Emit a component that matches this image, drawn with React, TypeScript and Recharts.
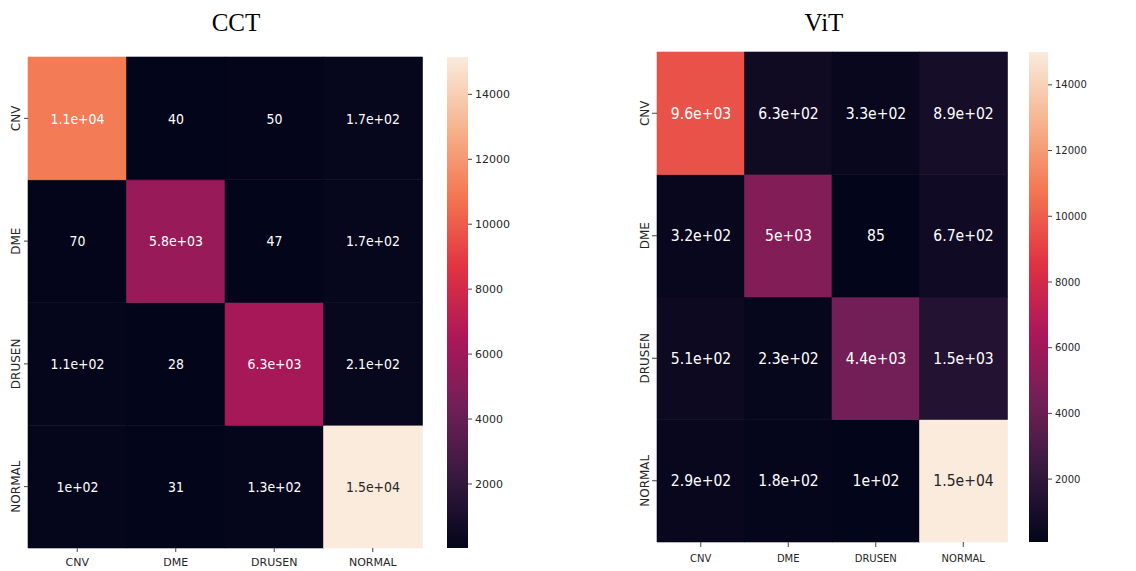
import { BarChart, Bar, XAxis, YAxis, Cell } from "recharts";

const classes = ["CNV", "DME", "DRUSEN", "NORMAL"];

// confusion matrices: rows = true class, columns = predicted class
const cctCNV = [11000, 40, 50, 170];
const cctDME = [70, 5800, 47, 170];
const cctDRUSEN = [110, 28, 6300, 210];
const cctNORMAL = [100, 31, 130, 15150];

const vitCNV = [9600, 630, 330, 890];
const vitDME = [320, 5000, 85, 670];
const vitDRUSEN = [510, 230, 4400, 1500];
const vitNORMAL = [290, 180, 100, 15000];

const colorbarTicks = [2000, 4000, 6000, 8000, 10000, 12000, 14000];

// seaborn "rocket"
const rocketStops = [
  "#03051A",
  "#35193E",
  "#701F57",
  "#AD1759",
  "#E13342",
  "#F37651",
  "#F6B48F",
  "#FAEBDD",
];

const hexToRgb = (h: string) => [
  parseInt(h.slice(1, 3), 16),
  parseInt(h.slice(3, 5), 16),
  parseInt(h.slice(5, 7), 16),
];

function rocketRgb(t: number) {
  const c = Math.max(0, Math.min(1, t)) * (rocketStops.length - 1);
  const i = Math.min(Math.floor(c), rocketStops.length - 2);
  const f = c - i;
  const a = hexToRgb(rocketStops[i]);
  const b = hexToRgb(rocketStops[i + 1]);
  return a.map((v, k) => v + (b[k] - v) * f);
}

function rocket(t: number) {
  const m = rocketRgb(t).map(Math.round);
  return `rgb(${m[0]},${m[1]},${m[2]})`;
}

// same rule as seaborn's annotation colour
function textColor(t: number) {
  const lin = rocketRgb(t).map((v) => {
    const s = v / 255;
    return s <= 0.03928 ? s / 12.92 : Math.pow((s + 0.055) / 1.055, 2.4);
  });
  const lum = 0.2126 * lin[0] + 0.7152 * lin[1] + 0.0722 * lin[2];
  return lum > 0.408 ? "#262626" : "#ffffff";
}

// python-like '.2g'
function fmt(v: number) {
  if (Math.abs(v) < 100) return String(Math.round(v));
  const [m, e] = v.toExponential(1).split("e");
  const exp = parseInt(e, 10);
  return `${m.replace(/\.0$/, "")}e${exp < 0 ? "-" : "+"}${String(Math.abs(exp)).padStart(2, "0")}`;
}

const FONT = "'DejaVu Sans', sans-serif";

type PanelProps = {
  title: string;
  rows: number[][];
  left: number;
  width: number;
  top: number;
  yAxisWidth: number;
  xAxisHeight: number;
  titleCenter: number;
  cellFont: number;
  xTickFont: number;
  yTickFont: number;
  tickSize: number;
  xTickMargin: number;
  yLabelShift: number;
  cbLeft: number;
  cbPad: number;
  cbBarWidth: number;
  cbFont: number;
  gradId: string;
};

function Panel(p: PanelProps) {
  const all = p.rows.flat();
  const vmin = Math.min(...all);
  const vmax = Math.max(...all);
  const norm = (v: number) => (v - vmin) / (vmax - vmin);

  // one column per predicted class, one stacked segment per true class
  const table = classes.map((c) => {
    const o: Record<string, number | string> = { name: c };
    classes.forEach((r) => (o[r] = 1));
    return o;
  });
  const bottomUp = [3, 2, 1, 0];

  return (
    <>
      <div
        style={{
          position: "absolute",
          left: p.titleCenter - 100,
          width: 200,
          top: 10,
          textAlign: "center",
          fontFamily: "'Liberation Serif', 'Times New Roman', serif",
          fontSize: 25,
          lineHeight: "25px",
          color: "#000",
        }}
      >
        {p.title}
      </div>
      <div style={{ position: "absolute", left: p.left, top: 0 }}>
        <BarChart
          width={p.width}
          height={571}
          data={table}
          margin={{ top: p.top, right: 8, bottom: 0, left: 0 }}
          barCategoryGap={0}
          barGap={0}
        >
          <XAxis
            dataKey="name"
            height={p.xAxisHeight}
            axisLine={false}
            tickSize={p.tickSize}
            tickMargin={p.xTickMargin}
            tickLine={{ stroke: "#444" }}
            tick={{ fontSize: p.xTickFont, fill: "#262626", fontFamily: FONT }}
            interval={0}
          />
          <YAxis
            type="number"
            domain={[0, 4]}
            ticks={[0.5, 1.5, 2.5, 3.5]}
            width={p.yAxisWidth}
            axisLine={false}
            tickSize={p.tickSize}
            tickLine={{ stroke: "#444" }}
            tick={(t: any) => (
              <g transform={`translate(${t.x - p.yLabelShift},${t.y}) rotate(-90)`}>
                <text
                  x={0}
                  y={0}
                  textAnchor="middle"
                  fontSize={p.yTickFont}
                  fill="#262626"
                  fontFamily={FONT}
                >
                  {classes[3 - Math.floor(t.payload.value)]}
                </text>
              </g>
            )}
          />
          {bottomUp.map((r) => (
            <Bar
              key={classes[r]}
              dataKey={classes[r]}
              stackId="m"
              isAnimationActive={false}
              label={(l: any) => {
                const v = p.rows[r][l.index];
                return (
                  <g transform={`translate(${l.x + l.width / 2},${l.y + l.height / 2}) scale(1,1.15)`}>
                    <text
                      x={0}
                      y={0}
                      textAnchor="middle"
                      dominantBaseline="central"
                      fontSize={p.cellFont}
                      fontFamily={FONT}
                      fill={textColor(norm(v))}
                    >
                      {fmt(v)}
                    </text>
                  </g>
                );
              }}
            >
              {p.rows[r].map((v, i) => (
                <Cell key={i} fill={rocket(norm(v))} stroke={rocket(norm(v))} strokeWidth={0.6} />
              ))}
            </Bar>
          ))}
        </BarChart>
      </div>
      <div style={{ position: "absolute", left: p.cbLeft, top: 0 }}>
        <BarChart
          width={p.cbPad + p.cbBarWidth + 60}
          height={571}
          data={[{ name: "cb", v: vmax }]}
          margin={{ top: p.top, right: 0, bottom: p.xAxisHeight, left: p.cbPad }}
          barCategoryGap={0}
        >
          <defs>
            <linearGradient id={p.gradId} x1="0" y1="1" x2="0" y2="0">
              {rocketStops.map((c, i) => (
                <stop key={i} offset={i / (rocketStops.length - 1)} stopColor={c} />
              ))}
            </linearGradient>
          </defs>
          <XAxis dataKey="name" hide />
          <YAxis
            orientation="right"
            type="number"
            domain={[vmin, vmax]}
            ticks={colorbarTicks}
            width={60}
            axisLine={false}
            tickSize={4}
            tickMargin={3}
            tickLine={{ stroke: "#444" }}
            tick={{ fontSize: p.cbFont, fill: "#262626", fontFamily: FONT, textAnchor: "start" }}
            allowDataOverflow
          />
          <Bar dataKey="v" fill={`url(#${p.gradId})`} isAnimationActive={false} />
        </BarChart>
      </div>
    </>
  );
}

export default function App() {
  return (
    <div
      style={{
        position: "absolute",
        left: 0,
        top: 0,
        width: 1136,
        height: 571,
        background: "#fff",
        overflow: "hidden",
      }}
    >
      <Panel
        title="CCT"
        rows={[cctCNV, cctDME, cctDRUSEN, cctNORMAL]}
        left={0}
        width={430}
        top={57}
        yAxisWidth={28}
        xAxisHeight={23}
        titleCenter={236}
        cellFont={12.5}
        xTickFont={11}
        yTickFont={12}
        tickSize={4}
        xTickMargin={6}
        yLabelShift={2}
        cbLeft={440}
        cbPad={7}
        cbBarWidth={21}
        cbFont={11}
        gradId="rocketCCT"
      />
      <Panel
        title="ViT"
        rows={[vitCNV, vitDME, vitDRUSEN, vitNORMAL]}
        left={600}
        width={415}
        top={52}
        yAxisWidth={57}
        xAxisHeight={29}
        titleCenter={824}
        cellFont={14}
        xTickFont={10}
        yTickFont={12}
        tickSize={5}
        xTickMargin={8}
        yLabelShift={1}
        cbLeft={1020}
        cbPad={9}
        cbBarWidth={19}
        cbFont={10}
        gradId="rocketViT"
      />
    </div>
  );
}
